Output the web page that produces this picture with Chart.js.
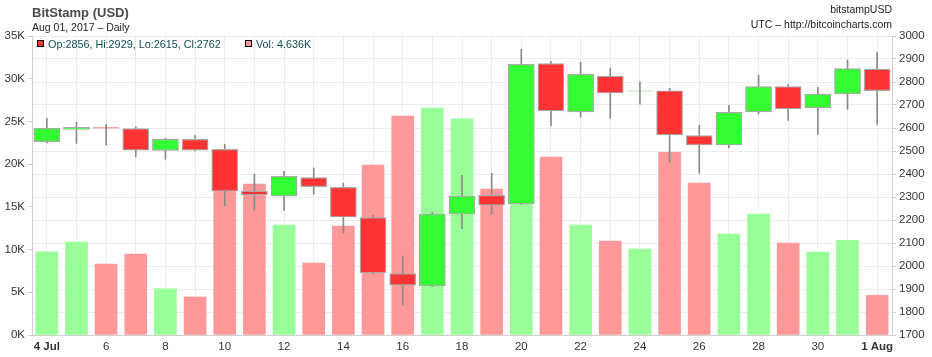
<!DOCTYPE html>
<html>
<head>
<meta charset="utf-8">
<script src="https://cdn.jsdelivr.net/npm/chart.js@4/dist/chart.umd.min.js"></script>
<style>
html,body{margin:0;padding:0;background:#fff;}
#wrap{position:relative;width:932px;height:357px;}
</style>
</head>
<body>
<div id="wrap"><canvas id="c" width="932" height="357"></canvas></div>
<script>
const labels = ['4 Jul','5','6','7','8','9','10','11','12','13','14','15','16','17','18','19','20','21','22','23','24','25','26','27','28','29','30','31','1 Aug'];
const openP  = [2541,2594,2602,2597,2503,2551,2507,2325,2304,2384,2342,2210,1967,1914,2226,2307,2270,2880,2670,2826,2760,2762,2567,2526,2670,2780,2687,2748,2856];
const highP  = [2642,2625,2616,2606,2555,2568,2529,2400,2412,2426,2360,2220,2043,2232,2394,2403,2942,2890,2886,2860,2801,2772,2612,2699,2830,2790,2777,2896,2929];
const lowP   = [2535,2533,2525,2475,2464,2500,2262,2242,2242,2312,2142,1965,1829,1910,2162,2225,2268,2610,2647,2642,2704,2451,2403,2513,2661,2633,2573,2681,2615];
const closeP = [2599,2603,2599,2504,2551,2504,2326,2309,2390,2345,2213,1970,1917,2226,2304,2265,2877,2675,2833,2752,2762,2570,2526,2668,2780,2683,2747,2858,2762];
const volume = [9750,10890,8310,9480,5390,4450,19000,17680,12880,8430,12760,19900,25640,26570,25290,17090,25000,20840,12880,11000,10070,21390,17790,11820,14160,10770,9720,11080,4636];
const volTicks = [0,5000,10000,15000,20000,25000,30000,35000];
const priceTicks = [1700,1800,1900,2000,2100,2200,2300,2400,2500,2600,2700,2800,2900,3000];

const up = closeP.map((c,i)=>c>=openP[i]);
const bodyColors = up.map(u=>u?'#33ff33':'#ff3333');
const volColors = up.map(u=>u?'#99ff99':'#ff9999');

const tickFont = {family:"'Liberation Sans Narrow','Liberation Sans',Arial,sans-serif", size:11.5};

const headerPlugin = {
  id:'header',
  afterDraw(chart){
    const ctx = chart.ctx;
    ctx.save();
    ctx.textBaseline = 'alphabetic';
    ctx.textAlign = 'left';
    ctx.fillStyle = '#4a4a4a';
    ctx.font = "bold 13px 'Liberation Sans', Arial, sans-serif";
    ctx.fillText('BitStamp (USD)', 32, 16.5);
    ctx.fillStyle = '#222';
    ctx.font = "10.5px 'Liberation Sans', Arial, sans-serif";
    ctx.fillText('Aug 01, 2017 \u2013 Daily', 32, 30.5);
    ctx.textAlign = 'right';
    ctx.fillText('bitstampUSD', 892, 12.5);
    ctx.fillText('UTC \u2013 http://bitcoincharts.com', 892, 27.5);
    const i = labels.length - 1;
    ctx.textAlign = 'left';
    ctx.fillStyle = bodyColors[i];
    ctx.fillRect(37.5, 40.5, 6, 6);
    ctx.strokeStyle = '#000';
    ctx.lineWidth = 1;
    ctx.strokeRect(37.5, 40.5, 6, 6);
    ctx.fillStyle = '#0f4d55';
    ctx.font = "10.8px 'Liberation Sans', Arial, sans-serif";
    ctx.fillText('Op:' + openP[i] + ', Hi:' + highP[i] + ', Lo:' + lowP[i] + ', Cl:' + closeP[i], 48, 47.5);
    ctx.fillStyle = volColors[i];
    ctx.fillRect(245.5, 40.5, 6, 6);
    ctx.strokeRect(245.5, 40.5, 6, 6);
    ctx.fillStyle = '#0f4d55';
    ctx.fillText('Vol: ' + (volume[i]/1000).toFixed(3) + 'K', 256, 47.5);
    ctx.restore();
  }
};

new Chart(document.getElementById('c'), {
  type: 'bar',
  data: {
    labels: labels,
    datasets: [
      {
        label: 'Volume', yAxisID: 'yv', data: volume,
        backgroundColor: volColors, barThickness: 22, grouped: false, order: 3
      },
      {
        label: 'Wick', yAxisID: 'yp', data: lowP.map((l,i)=>[l, highP[i]]),
        backgroundColor: '#8a8a8a', barThickness: 1, grouped: false, order: 2
      },
      {
        label: 'Body', yAxisID: 'yp', data: openP.map((o,i)=>[o, closeP[i]]),
        backgroundColor: bodyColors, borderColor: '#a8a8a8', borderWidth: 1.2,
        borderSkipped: false, barThickness: 26, grouped: false, order: 1
      }
    ]
  },
  options: {
    responsive: false,
    animation: false,
    events: [],
    layout: {padding: {top: 36, left: 0, right: 0, bottom: 0}},
    plugins: {legend: {display: false}, tooltip: {enabled: false}, title: {display: false}},
    scales: {
      x: {
        offset: true,
        grid: {offset: false, color: '#ececec', drawTicks: false},
        border: {color: '#cfcfcf'},
        ticks: {
          autoSkip: false, maxRotation: 0, padding: 5, color: '#333',
          callback: function(v, idx){ return idx % 2 === 0 ? labels[idx] : ''; },
          font: function(ctx){
            const idx = ctx.index;
            const bold = (idx === 0 || idx === labels.length - 1);
            return {family: tickFont.family, size: 11.5, weight: bold ? 'bold' : 'normal'};
          }
        },
        afterFit: s => { s.height = 22; }
      },
      yv: {
        position: 'left', min: 0, max: 35000,
        afterBuildTicks: s => { s.ticks = volTicks.map(v => ({value: v})); },
        ticks: {color: '#333', font: tickFont, padding: 3, callback: v => (v/1000) + 'K'},
        grid: {drawOnChartArea: false, tickLength: 4, color: '#cfcfcf'},
        border: {color: '#cfcfcf'},
        afterFit: s => { s.width = 32; }
      },
      yp: {
        position: 'right', min: 1700, max: 3000,
        afterBuildTicks: s => { s.ticks = priceTicks.map(v => ({value: v})); },
        ticks: {color: '#333', font: tickFont, padding: 3, callback: v => String(v)},
        grid: {color: '#ececec', tickColor: '#cfcfcf', tickLength: 4},
        border: {color: '#cfcfcf'},
        afterFit: s => { s.width = 40; }
      }
    }
  },
  plugins: [headerPlugin]
});
</script>
</body>
</html>
